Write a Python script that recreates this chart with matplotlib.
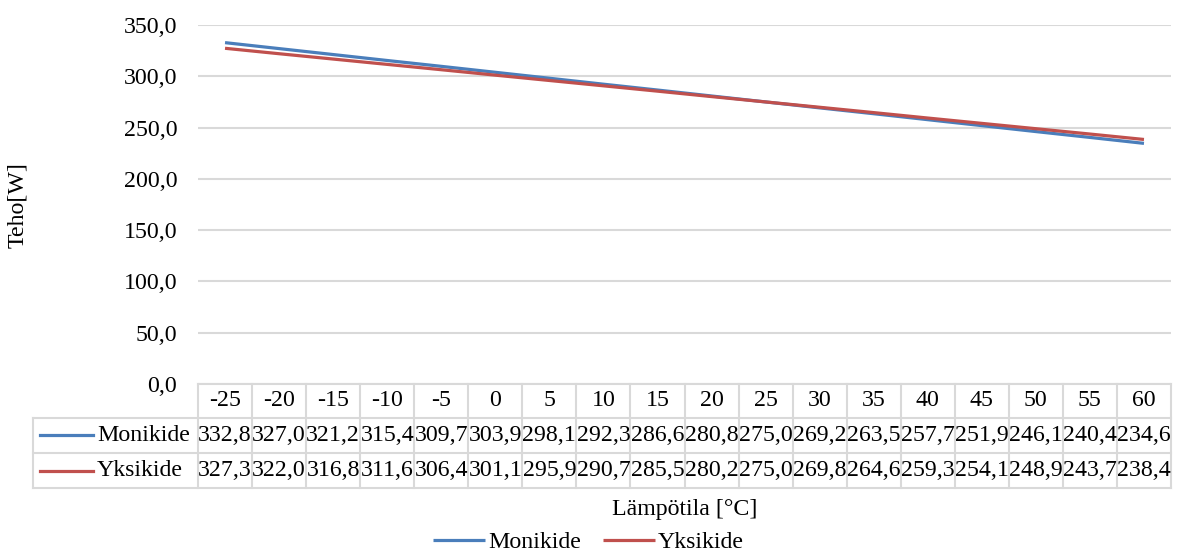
import matplotlib.pyplot as plt
from matplotlib.lines import Line2D
from matplotlib.transforms import blended_transform_factory

# Temperature steps and panel power for both cell types
lampotila = [-25, -20, -15, -10, -5, 0, 5, 10, 15, 20, 25, 30, 35, 40, 45, 50, 55, 60]
monikide = [332.8, 327.0, 321.2, 315.4, 309.7, 303.9, 298.1, 292.3, 286.6,
            280.8, 275.0, 269.2, 263.5, 257.7, 251.9, 246.1, 240.4, 234.6]
yksikide = [327.3, 322.0, 316.8, 311.6, 306.4, 301.1, 295.9, 290.7, 285.5,
            280.2, 275.0, 269.8, 264.6, 259.3, 254.1, 248.9, 243.7, 238.4]
series = [("Monikide", monikide, "#4a7ebb"), ("Yksikide", yksikide, "#c0504d")]

plt.rcParams['font.family'] = ['Liberation Serif', 'DejaVu Serif']
FS = 17.2
GRID = "#d9d9d9"

W, H = 1177, 554
fig = plt.figure(figsize=(W / 100, H / 100), dpi=100)


def fy(y):
    return 1 - y / H


ax = fig.add_axes([198 / W, fy(384), 973 / W, 359 / H])
xs = list(range(len(lampotila)))
handles = []
for name, vals, col in series:
    h, = ax.plot(xs, vals, color=col, lw=2.3, label=name, solid_capstyle='butt')
    handles.append(h)

ax.set_xlim(-0.5, len(lampotila) - 0.5)
ax.set_ylim(0, 350)
ax.set_yticks(range(0, 351, 50))
ax.set_yticklabels([f"{v:.1f}".replace(".", ",") for v in range(0, 351, 50)], fontsize=FS)
ax.set_xticks([])
ax.tick_params(axis='y', length=0, pad=15)
ax.grid(axis='y', color=GRID, lw=1.5)
ax.set_axisbelow(True)
for s in ax.spines.values():
    s.set_visible(False)

# Data table under the plot
tr = blended_transform_factory(ax.transData, fig.transFigure)
n = len(lampotila)
x_left = 32.5 / W
x_right = ax.get_position().x1
y_top, y_hdr, y_r1, y_bot = 383.5, 417.5, 453, 488
kw = dict(color=GRID, lw=1.5)
fig.add_artist(Line2D([-0.5, n - 0.5], [fy(y_top)] * 2, transform=tr, **kw))
for yl in (y_hdr, y_r1, y_bot):
    fig.add_artist(Line2D([x_left, x_right], [fy(yl)] * 2, transform=fig.transFigure, **kw))
fig.add_artist(Line2D([x_left] * 2, [fy(y_hdr), fy(y_bot)], transform=fig.transFigure, **kw))
for i in range(n + 1):
    fig.add_artist(Line2D([i - 0.5] * 2, [fy(y_top), fy(y_bot)], transform=tr, **kw))

for i, t in enumerate(lampotila):
    fig.text(i, fy((y_top + y_hdr) / 2), str(t), transform=tr, ha='center', va='center', fontsize=FS)

rows = [(y_hdr + y_r1) / 2, (y_r1 + y_bot) / 2]
for (name, vals, col), yc in zip(series, rows):
    fig.add_artist(Line2D([40 / W, 93 / W], [fy(yc)] * 2, color=col, lw=2.3,
                          transform=fig.transFigure))
    fig.text(97 / W, fy(yc), name, ha='left', va='center', fontsize=FS)
    for i, v in enumerate(vals):
        fig.text(i, fy(yc), f"{v:.1f}".replace(".", ","), transform=tr,
                 ha='center', va='center', fontsize=FS)

fig.text((ax.get_position().x0 + x_right) / 2, fy(509), "Lämpötila [°C]",
         ha='center', va='center', fontsize=FS)
fig.text(18 / W, fy(205), "Teho[W]", rotation=90, ha='center', va='center', fontsize=FS)

fig.legend(handles=handles, loc='center', bbox_to_anchor=(0.5, fy(542)), ncol=2,
           frameon=False, fontsize=FS, handlelength=2.2, handletextpad=0.12,
           columnspacing=0.9, borderpad=0)

fig.savefig("out.png", dpi=100)
